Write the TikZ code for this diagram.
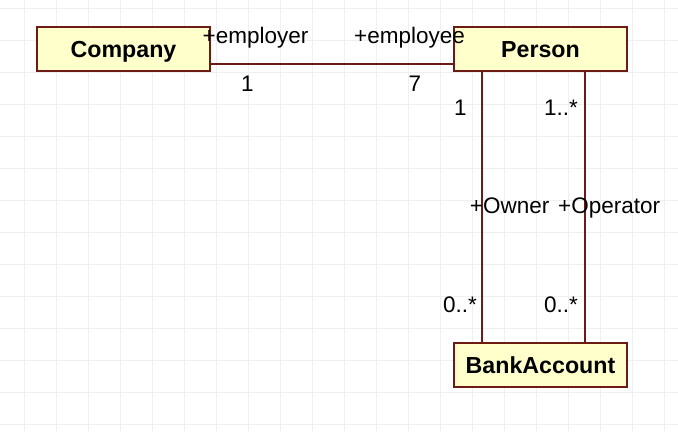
\documentclass[tikz,border=0pt]{standalone}
\usepackage{fontspec}
\setmainfont{Liberation Sans}
\definecolor{umlline}{HTML}{6B1B14}
\definecolor{umlfill}{HTML}{FFFFCC}
\definecolor{gridc}{HTML}{EFEFEF}
\begin{document}
\begin{tikzpicture}[x=1pt,y=-1pt,
  classbox/.style={draw=umlline, fill=umlfill, line width=1.6pt, minimum width=173pt, minimum height=44pt,
    inner sep=0pt, font=\fontsize{23.2}{27}\selectfont\bfseries, text height=16.6pt, text depth=0pt},
  lbl/.style={inner sep=0pt, anchor=base, font=\fontsize{22.5}{27}\selectfont},
  assoc/.style={draw=umlline, line width=1.6pt}]
\useasboundingbox (0,0) rectangle (678,432);
\fill[white] (0,0) rectangle (678,432);
\foreach \i in {0,...,20} \draw[gridc, line width=1pt] ({24+32*\i},0) -- ({24+32*\i},432);
\foreach \j in {0,...,13} \draw[gridc, line width=1pt] (0,{8+32*\j}) -- (678,{8+32*\j});

\node[classbox] (company) at (123.5,49) {Company};
\node[classbox] (person) at (540.5,49) {Person};
\node[classbox] (bank) at (540.5,365) {BankAccount};

\draw[assoc] ([yshift=8pt]company.south east) -- ([yshift=8pt]person.south west);
\draw[assoc] ([xshift=29pt]person.south west) -- ([xshift=29pt]bank.north west);
\draw[assoc] ([xshift=-43pt]person.south east) -- ([xshift=-43pt]bank.north east);

\node[lbl] (employer) at (255.5,43) {+employer};
\node[lbl] (employee) at (409.5,43) {+employee};
\node[lbl] (m1) at (247.5,91.5) {1};
\node[lbl] (m7) at (415,91.5) {7};
\node[lbl] (m1b) at (460.5,115) {1};
\node[lbl] (m1s) at (561,115) {1..*};
\node[lbl] (owner) at (509.7,213) {+Owner};
\node[lbl] (operator) at (609.2,213) {+Operator};
\node[lbl] (z1) at (460,312) {0..*};
\node[lbl] (z2) at (561,312) {0..*};
\end{tikzpicture}
\end{document}
